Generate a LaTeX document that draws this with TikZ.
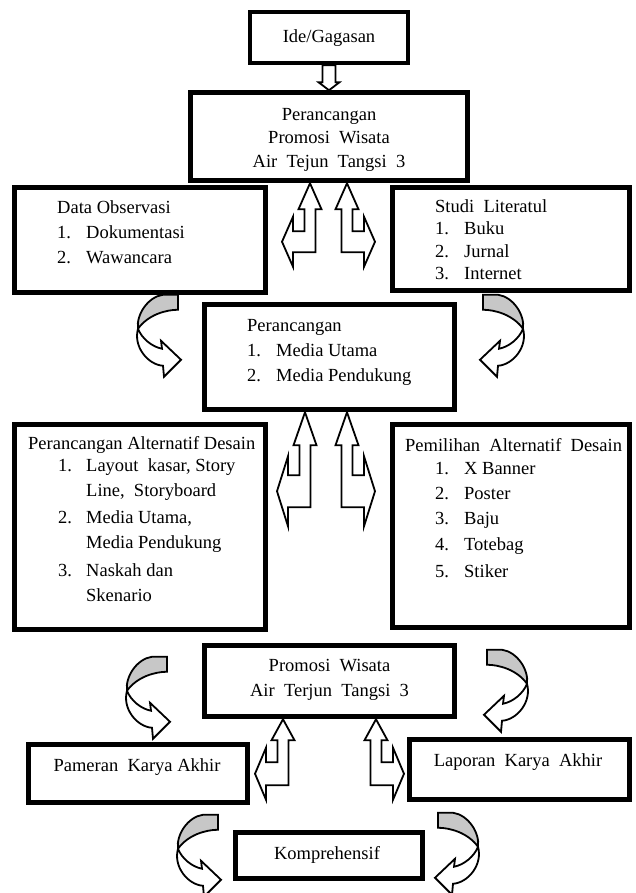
\documentclass[tikz,border=0pt]{standalone}
\usepackage{fontspec}
\setmainfont{Liberation Serif}
\usetikzlibrary{calc}
\tikzset{
  box/.style={draw=black, line width=4.5pt, inner sep=0pt, fill=white},
  txt/.style={inner sep=0pt, font=\fontsize{18.5}{24}\selectfont},
  blk/.style={draw=black, line width=1.8pt, fill=white, line join=miter},
  crescent/.style={draw=black, line width=1.8pt, fill=black!22, line join=miter},
  pics/larrow/.style n args={4}{code={
    \pgfmathsetmacro\lac{(#2+#3)/2}
    \pgfmathsetmacro\lau{\lac-#4}
    \pgfmathsetmacro\lad{\lac+#4}
    \draw[blk] (0,0) -- (11.5,#1) -- (5.5,#1) -- (5.5,#3) -- (-17,#3) -- (-17,\lad)
      -- (-28,\lac) -- (-17,\lau) -- (-17,#2) -- (-5.5,#2) -- (-5.5,#1) -- (-11.5,#1) -- cycle;
  }},
  pics/carrow/.style={code={
    \draw[blk] (-40,34) .. controls (-45,52) and (-30,70) .. (-15,71) -- (-14,82) -- (3,65)
      -- (-17,46) -- (-16,54) .. controls (-26,52) and (-36,44) .. (-40,34) -- cycle;
    \draw[crescent] (-15,0) -- (0,0) -- (0,15) .. controls (-12,15) and (-30,20) .. (-40,34)
      .. controls (-42,20) and (-30,2) .. (-15,0) -- cycle;
  }}
}
\begin{document}
\begin{tikzpicture}[x=1pt,y=-1pt]
\useasboundingbox[fill=white] (0,0) rectangle (635,893);

% boxes
\node[box, minimum width=158pt, minimum height=51pt] (ide) at (329,37.5) {};
\node[box, minimum width=277pt, minimum height=88pt] (top) at (329,136.5) {};
\node[box, minimum width=251pt, minimum height=105pt] (obs) at (140,240) {};
\node[box, minimum width=237pt, minimum height=103pt] (lit) at (511,239) {};
\node[box, minimum width=250pt, minimum height=105pt] (med) at (329.5,357) {};
\node[box, minimum width=251pt, minimum height=205pt] (alt) at (140,527) {};
\node[box, minimum width=237pt, minimum height=203pt] (pil) at (511,526) {};
\node[box, minimum width=250pt, minimum height=71pt] (pro) at (329.5,681) {};
\node[box, minimum width=219pt, minimum height=58pt] (pam) at (138,773.5) {};
\node[box, minimum width=220pt, minimum height=60pt] (lap) at (519.5,769.5) {};
\node[box, minimum width=187pt, minimum height=46pt] (kom) at (329,855.5) {};

% texts
\node[txt, anchor=base] (ideT) at (329,43) {Ide/Gagasan};
\node[txt, anchor=base] (topT1) at (329,121) {Perancangan};
\node[txt, anchor=base] (topT2) at (329,144) {Promosi\ \ Wisata};
\node[txt, anchor=base] (topT3) at (329,168) {Air\ \ Tejun\ \ Tangsi\ \ 3};

\node[txt, anchor=base west] (obsH) at (57,214) {Data Observasi};
\node[txt, anchor=base west] (obsN1) at (57,238) {1.};
\node[txt, anchor=base west] (obsL1) at (86,238) {Dokumentasi};
\node[txt, anchor=base west] (obsN2) at (57,263) {2.};
\node[txt, anchor=base west] (obsL2) at (86,263) {Wawancara};

\node[txt, anchor=base west] (litH) at (435,213) {Studi\ \ Literatul};
\node[txt, anchor=base west] (litN1) at (435,235) {1.};
\node[txt, anchor=base west] (litL1) at (464,235) {Buku};
\node[txt, anchor=base west] (litN2) at (435,258) {2.};
\node[txt, anchor=base west] (litL2) at (464,258) {Jurnal};
\node[txt, anchor=base west] (litN3) at (435,279) {3.};
\node[txt, anchor=base west] (litL3) at (464,279) {Internet};

\node[txt, anchor=base west] (medH) at (247,331) {Perancangan};
\node[txt, anchor=base west] (medN1) at (247,356) {1.};
\node[txt, anchor=base west] (medL1) at (276,356) {Media Utama};
\node[txt, anchor=base west] (medN2) at (247,381) {2.};
\node[txt, anchor=base west] (medL2) at (276,381) {Media Pendukung};

\node[txt, anchor=base west] (altH) at (28,449) {Perancangan Alternatif Desain};
\node[txt, anchor=base west] (altN1) at (58,471) {1.};
\node[txt, anchor=base west] (altL1) at (86,471) {Layout\ \ kasar, Story};
\node[txt, anchor=base west] (altL1b) at (86,496) {Line,\ \ Storyboard};
\node[txt, anchor=base west] (altN2) at (58,523) {2.};
\node[txt, anchor=base west] (altL2) at (86,523) {Media Utama,};
\node[txt, anchor=base west] (altL2b) at (86,548) {Media Pendukung};
\node[txt, anchor=base west] (altN3) at (58,576) {3.};
\node[txt, anchor=base west] (altL3) at (86,576) {Naskah dan};
\node[txt, anchor=base west] (altL3b) at (86,601) {Skenario};

\node[txt, anchor=base west] (pilH) at (405,451) {Pemilihan\ \ Alternatif\ \ Desain};
\node[txt, anchor=base west] (pilN1) at (435,474) {1.};
\node[txt, anchor=base west] (pilL1) at (464,474) {X Banner};
\node[txt, anchor=base west] (pilN2) at (435,499) {2.};
\node[txt, anchor=base west] (pilL2) at (464,499) {Poster};
\node[txt, anchor=base west] (pilN3) at (435,524) {3.};
\node[txt, anchor=base west] (pilL3) at (464,524) {Baju};
\node[txt, anchor=base west] (pilN4) at (435,550) {4.};
\node[txt, anchor=base west] (pilL4) at (464,550) {Totebag};
\node[txt, anchor=base west] (pilN5) at (435,577) {5.};
\node[txt, anchor=base west] (pilL5) at (464,577) {Stiker};

\node[txt, anchor=base] (proT1) at (329.5,671) {Promosi\ \ Wisata};
\node[txt, anchor=base] (proT2) at (329.5,696) {Air\ \ Terjun\ \ Tangsi\ \ 3};
\node[txt, anchor=base] (pamT) at (137,771) {Pameran\ \ Karya Akhir};
\node[txt, anchor=base] (lapT) at (518,766) {Laporan\ \ Karya\ \ Akhir};
\node[txt, anchor=base] (komT) at (327,859) {Komprehensif};

% hollow down arrow
\draw[blk] ($(ide.south)+(-6.5,0)$) -- ($(top.north)+(-6.5,-8)$) -- ($(top.north)+(-10.5,-8)$)
  -- (top.north) -- ($(top.north)+(10.5,-8)$) -- ($(top.north)+(6.5,-8)$)
  -- ($(ide.south)+(6.5,0)$) -- cycle;

% left-up block arrows
\pic at ($(top.south)+(-19,0.5)$) {larrow={26}{48}{69}{25}};
\pic[xscale=-1] at ($(top.south)+(18,0.5)$) {larrow={26}{48}{69}{25}};
\pic at ($(med.south)+(-24.5,0.5)$) {larrow={33}{63}{95}{35}};
\pic[xscale=-1] at ($(med.south)+(17.5,0.5)$) {larrow={33}{63}{95}{35}};
\pic at ($(pro.south)+(-46.5,0.5)$) {larrow={21}{43}{66}{26}};
\pic[xscale=-1] at ($(pro.south)+(46.5,0.5)$) {larrow={21}{43}{66}{26}};

% curved arrows
\pic at ($(obs.south)+(38,0)$) {carrow};
\pic[xscale=-1] at ($(lit.south)+(-28,2)$) {carrow};
\pic at ($(alt.south)+(27,25)$) {carrow};
\pic[xscale=-1] at ($(pil.south)+(-24,20)$) {carrow};
\pic at ($(pam.south)+(80,10)$) {carrow};
\pic[xscale=-1] at ($(lap.south)+(-81.5,11)$) {carrow};
\end{tikzpicture}
\end{document}
